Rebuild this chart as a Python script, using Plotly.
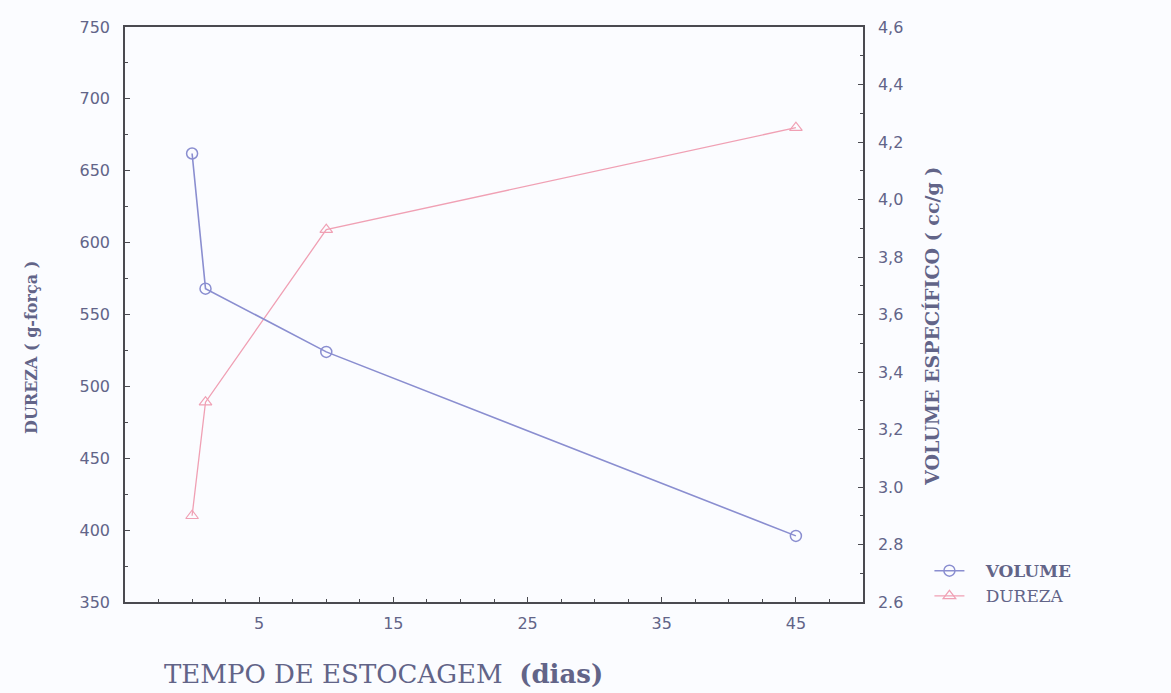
import plotly.graph_objects as go

dias = [0, 1, 10, 45]
volume = [4.16, 3.69, 3.47, 2.83]
dureza = [410, 489, 609, 680]

x_ticks = [5, 15, 25, 35, 45]
y_left_ticks = [350, 400, 450, 500, 550, 600, 650, 700, 750]
y_right_vals = [2.6, 2.8, 3.0, 3.2, 3.4, 3.6, 3.8, 4.0, 4.2, 4.4, 4.6]
y_right_text = ["2.6", "2.8", "3.0", "3,2", "3,4", "3,6", "3,8", "4,0", "4,2", "4,4", "4,6"]

vol_color = "#8a8ed0"
dur_color = "#f0a0b4"
tick_color = "#626488"
axis_color = "#4a4a50"
font_serif = "DejaVu Serif"

fig = go.Figure()
fig.add_trace(go.Scatter(
    x=dias, y=volume, name="   <b>VOLUME</b>", yaxis="y2", mode="lines+markers",
    line=dict(color=vol_color, width=1.6),
    marker=dict(symbol="circle-open", size=11, color=vol_color, line=dict(width=1.5)),
))
fig.add_trace(go.Scatter(
    x=dias, y=dureza, name="   DUREZA", yaxis="y", mode="lines+markers",
    line=dict(color=dur_color, width=1.3),
    marker=dict(symbol="triangle-up-open", size=11, color=dur_color, line=dict(width=1.2)),
))

axis_common = dict(
    showline=True, linecolor=axis_color, linewidth=1.5,
    ticks="inside", ticklen=5, tickcolor=axis_color, showgrid=False, zeroline=False,
    tickfont=dict(family="DejaVu Sans", size=16, color=tick_color),
)

fig.update_layout(
    width=1171, height=693,
    margin=dict(l=125, r=308, t=27, b=91),
    paper_bgcolor="#fbfcff", plot_bgcolor="#fbfcff",
    xaxis=dict(range=[-5, 50], tickvals=x_ticks, mirror=True, ticklabelstandoff=6,
               minor=dict(ticks="inside", dtick=2.5, ticklen=3, tickcolor=axis_color),
               **axis_common),
    yaxis=dict(range=[350, 750], tickvals=y_left_ticks, ticklabelstandoff=10,
               minor=dict(ticks="inside", dtick=25, ticklen=3, tickcolor=axis_color), **axis_common),
    yaxis2=dict(range=[2.6, 4.6], tickvals=y_right_vals, ticktext=y_right_text, overlaying="y", side="right",
                ticklabelstandoff=10,
                minor=dict(ticks="inside", dtick=0.1, ticklen=3, tickcolor=axis_color), **axis_common),
    showlegend=True,
    legend=dict(x=1.09, y=0.085, xanchor="left", yanchor="top", bgcolor="rgba(0,0,0,0)",
                font=dict(family=font_serif, size=17, color=tick_color), tracegroupgap=4),
)

fig.add_annotation(text="<b>DUREZA ( g-força )</b>", xref="paper", yref="paper", x=-0.142, y=0.443,
                   textangle=-90, showarrow=False,
                   font=dict(family=font_serif, size=16, color=tick_color))
fig.add_annotation(text="<b>VOLUME ESPECÍFICO ( cc/g )</b>", xref="paper", yref="paper", x=1.111, y=0.48,
                   textangle=-90, showarrow=False,
                   font=dict(family=font_serif, size=19, color=tick_color))
fig.add_annotation(text="TEMPO DE ESTOCAGEM  <b>(dias)</b>", xref="paper", yref="paper", x=0.35, y=-0.095,
                   yanchor="top", showarrow=False,
                   font=dict(family=font_serif, size=26, color=tick_color))

fig.write_html("out.html")
